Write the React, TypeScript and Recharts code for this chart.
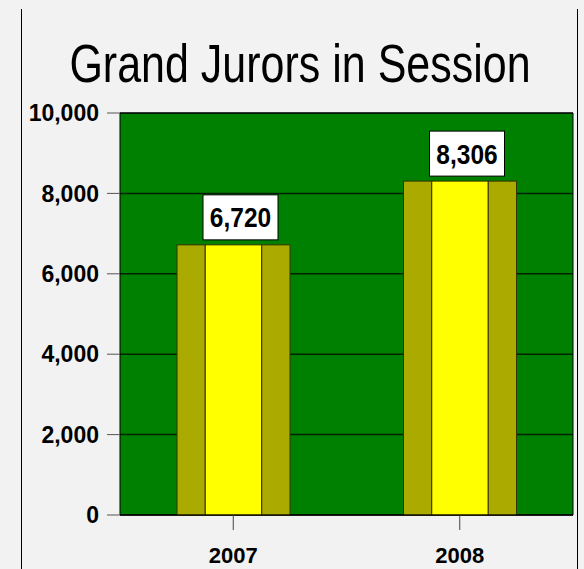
import { BarChart, Bar, XAxis, YAxis, CartesianGrid, ReferenceArea, LabelList } from 'recharts';

const years = ['2007', '2008'];
const jurors = [6720, 8306];
const yTicks = [0, 2000, 4000, 6000, 8000, 10000];

const data = years.map((year, i) => ({ year, jurors: jurors[i] }));

const FONT = '"Liberation Sans", Arial, sans-serif';

const fmt = (v: number) => v.toLocaleString('en-US');

// flat "cylinder": olive sides with a yellow middle
const CylinderBar = (props: any) => {
  const { x, y, width, height } = props;
  if (!height || height <= 0) return null;
  const side = width / 4;
  return (
    <g stroke="#333300" strokeWidth={1}>
      <rect x={x} y={y} width={side} height={height} fill="#aaaa00" />
      <rect x={x + side} y={y} width={width - 2 * side} height={height} fill="#ffff00" />
      <rect x={x + width - side} y={y} width={side} height={height} fill="#aaaa00" />
    </g>
  );
};

const ValueBox = (props: any) => {
  const { x, y, width, value } = props;
  const cx = x + width / 2 + 7;
  const boxW = 75;
  const boxH = 45;
  const top = y - 5 - boxH;
  return (
    <g>
      <rect x={cx - boxW / 2} y={top} width={boxW} height={boxH} fill="#fff" stroke="#000" strokeWidth={1} />
      <text
        transform={`translate(${cx},${top + boxH / 2 + 10}) scale(1,1.15)`}
        textAnchor="middle"
        fontFamily={FONT}
        fontWeight="bold"
        fontSize={24.5}
        fill="#000"
      >
        {fmt(value)}
      </text>
    </g>
  );
};

export default function App() {
  return (
    <div style={{ position: 'fixed', left: 0, top: 0, width: 584, height: 569, background: '#f2f2f2', overflow: 'hidden' }}>
      <svg width={584} height={569} style={{ position: 'absolute', left: 0, top: 0 }}>
        <line x1={21.5} y1={9} x2={21.5} y2={569} stroke="#000" />
        <line x1={577.5} y1={9} x2={577.5} y2={569} stroke="#000" />
        <text
          transform="translate(300,82) scale(1,1.26)"
          textAnchor="middle"
          fontFamily={FONT}
          fontSize={43}
          fill="#000"
        >
          Grand Jurors in Session
        </text>
      </svg>
      <div style={{ position: 'absolute', left: 0, top: 0 }}>
        <BarChart width={584} height={569} data={data} margin={{ top: 113, right: 11, left: 20, bottom: 14 }}>
          <CartesianGrid vertical={false} fill="#008000" stroke="#000" strokeOpacity={0.75} strokeWidth={1.5} />
          <XAxis
            dataKey="year"
            height={40}
            axisLine={{ stroke: '#000' }}
            tickLine={{ stroke: '#444' }}
            tickSize={15}
            tickMargin={17}
            tick={{ fontSize: 22, fontWeight: 'bold', fill: '#000', fontFamily: FONT }}
          />
          <YAxis
            width={100}
            domain={[0, 10000]}
            ticks={yTicks}
            tickFormatter={fmt}
            axisLine={false}
            tickLine={{ stroke: '#555' }}
            tickSize={13}
            tickMargin={8}
            tick={{ fontSize: 23, fontWeight: 'bold', fill: '#000', fontFamily: FONT }}
          />
          <Bar dataKey="jurors" barSize={113} shape={CylinderBar} isAnimationActive={false}>
            <LabelList dataKey="jurors" content={ValueBox} />
          </Bar>
          <ReferenceArea y1={0} y2={10000} fill="none" stroke="#000" strokeWidth={1} ifOverflow="visible" />
        </BarChart>
      </div>
    </div>
  );
}
